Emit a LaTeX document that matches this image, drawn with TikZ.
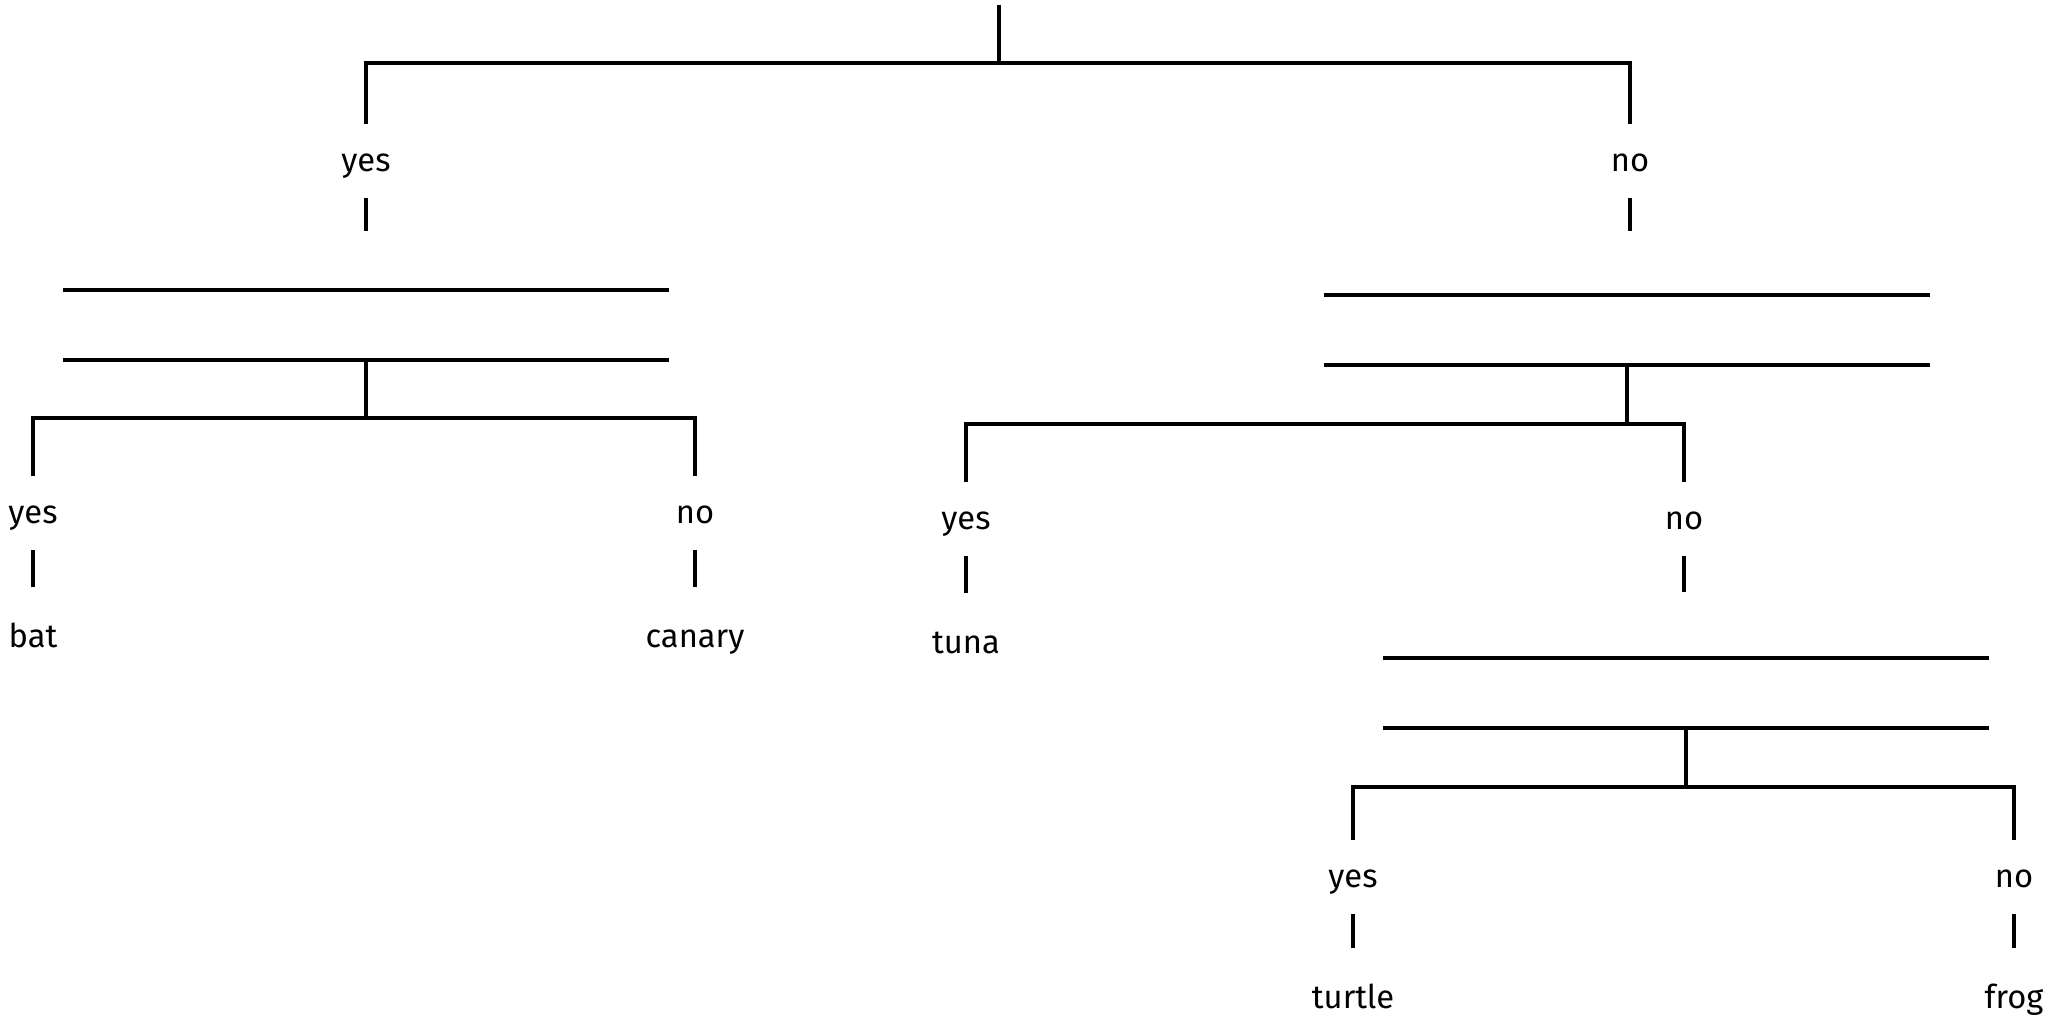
\documentclass[tikz,border=0pt]{standalone}
\usepackage{fontspec}
\setmainfont{Fira Sans}
\usetikzlibrary{positioning}

\tikzset{
  ans/.style={inner sep=0pt, minimum height=7mm, text height=2.5mm, text depth=0.5mm, font=\fontsize{9.3}{11}\selectfont},
  leaf/.style={inner xsep=0pt, inner ysep=3.3mm, text height=2.5mm, text depth=0mm, font=\fontsize{9.3}{11}\selectfont},
  qbox/.style={inner sep=0pt, minimum width=6.01cm, minimum height=6.6mm},
  qline/.style={line width=1.25pt},
}

\begin{document}
\begin{tikzpicture}[x=0.01cm, y=-0.01cm, line width=1.15pt]
\useasboundingbox (0,0) rectangle (2063,1020);
%%%%% Top split %%%%%
\coordinate (root) at (999,5);
\coordinate (rootbar) at (999,63);
\node[ans] (yesA) at (366,161) {yes};
\node[ans] (noA) at (1630,161) {no};
\draw (root) -- (rootbar);
\draw (yesA.north) |- (rootbar) -| (noA.north);

%%%%% Left branch %%%%%
\coordinate (tickA) at (366,231);
\node[qbox] (qA) at (366,325) {};
\coordinate (barA) at (366,418);
\node[ans] (yesB) at (33,513) {yes};
\node[ans] (noB) at (695,513) {no};
\node[leaf, below=3.7mm of yesB] (bat) {bat};
\node[leaf, below=3.7mm of noB] (canary) {canary};
\draw (yesA.south) -- (tickA);
\draw (qA.south) -- (barA);
\draw (yesB.north) |- (barA) -| (noB.north);
\draw (yesB.south) -- (bat.north);
\draw (noB.south) -- (canary.north);

%%%%% Right branch %%%%%
\coordinate (tickB) at (1630,231);
\node[qbox] (qB) at (1627,330) {};
\coordinate (barB) at (1627,424);
\node[ans] (yesC) at (966,519) {yes};
\node[ans] (noC) at (1684,519) {no};
\node[leaf, below=3.7mm of yesC] (tuna) {tuna};
\coordinate (tickC) at (1684,592);
\draw (noA.south) -- (tickB);
\draw (qB.south) -- (barB);
\draw (yesC.north) |- (barB) -| (noC.north);
\draw (yesC.south) -- (tuna.north);
\draw (noC.south) -- (tickC);

%%%%% Lower branch %%%%%
\node[qbox] (qC) at (1686,693) {};
\coordinate (barC) at (1686,787);
\node[ans] (yesD) at (1353,877) {yes};
\node[ans] (noD) at (2014,877) {no};
\node[leaf, below=3.4mm of yesD] (turtle) {turtle};
\node[leaf, below=3.4mm of noD] (frog) {frog};
\draw (qC.south) -- (barC);
\draw (yesD.north) |- (barC) -| (noD.north);
\draw (yesD.south) -- (turtle.north);
\draw (noD.south) -- (frog.north);

%%%%% Question lines %%%%%
\foreach \q in {qA,qB,qC}{
  \draw[qline] (\q.north west) -- (\q.north east) (\q.south west) -- (\q.south east);
}
\end{tikzpicture}
\end{document}
